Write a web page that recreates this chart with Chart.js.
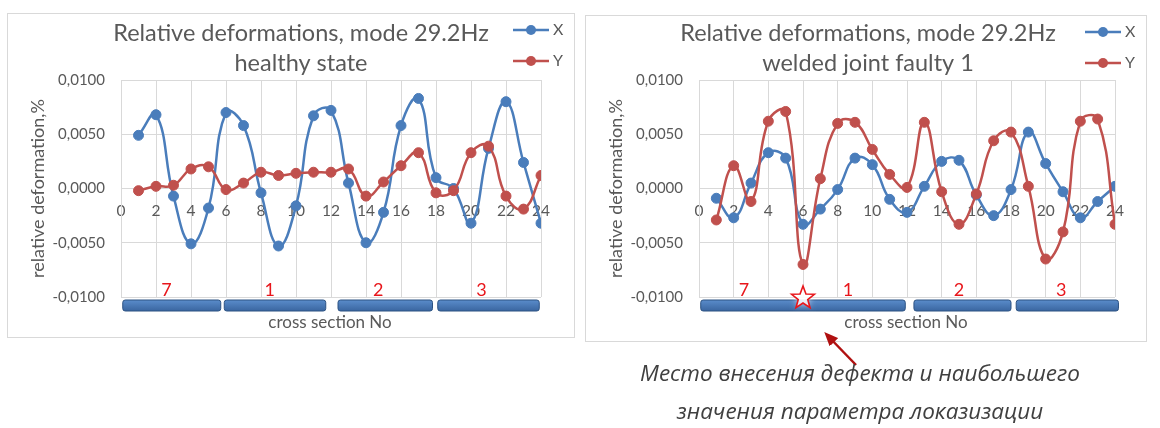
<!DOCTYPE html>
<html>
<head>
<meta charset="utf-8">
<script src="https://cdn.jsdelivr.net/npm/chart.js@4.4.1/dist/chart.umd.min.js"></script>
<style>
  body { margin: 0; width: 1160px; height: 428px; background: #fff; position: relative; overflow: hidden; }
  .panel { position: absolute; border: 1px solid #d9d9d9; background: #fff; }
  #p1 { left: 7px; top: 13px; width: 566px; height: 323px; }
  #p2 { left: 585px; top: 15px; width: 560px; height: 325px; }
  .panel canvas { display: block; }
  .note { position: absolute; left: 560px; width: 600px; text-align: center; font: italic 22.5px "Open Sans", sans-serif; color: #404040; }
  #arrow { position: absolute; left: 0; top: 0; }
</style>
</head>
<body>
<div class="panel" id="p1"><canvas id="healthyChart" width="566" height="323"></canvas></div>
<div class="panel" id="p2"><canvas id="faultyChart" width="560" height="325"></canvas></div>
<svg id="arrow" width="1160" height="428">
  <defs>
    <marker id="head" markerWidth="14" markerHeight="12" refX="10" refY="6" orient="auto" markerUnits="userSpaceOnUse">
      <path d="M0,0 L14,6 L0,12 z" fill="#b01010"/>
    </marker>
  </defs>
  <line x1="856" y1="365" x2="827" y2="335" stroke="#b01010" stroke-width="2.5" marker-end="url(#head)"/>
</svg>
<div class="note" style="top:357px">Место внесения дефекта и наибольшего</div>
<div class="note" style="top:395px">значения параметра локазизации</div>
<script>
// cross sections along the beam
const crossSections = [1, 2, 3, 4, 5, 6, 7, 8, 9, 10, 11, 12, 13, 14, 15, 16, 17, 18, 19, 20, 21, 22, 23, 24];

// healthy state
const healthyX = [0.0049, 0.0068, -0.0007, -0.0051, -0.0018, 0.0070, 0.0058, -0.0004, -0.0053, -0.0016, 0.0067, 0.0072,
                  0.0005, -0.0050, -0.0022, 0.0058, 0.0083, 0.0010, 0.0000, -0.0032, 0.0037, 0.0080, 0.0024, -0.0032];
const healthyY = [-0.0002, 0.0002, 0.0003, 0.0018, 0.0020, -0.0001, 0.0005, 0.0015, 0.0012, 0.0014, 0.0015, 0.0015,
                  0.0018, -0.0007, 0.0006, 0.0021, 0.0033, -0.0004, -0.0002, 0.0033, 0.0039, -0.0007, -0.0019, 0.0012];

// welded joint faulty 1
const faultyX = [-0.0009, -0.0027, 0.0005, 0.0033, 0.0028, -0.0033, -0.0019, -0.0001, 0.0028, 0.0022, -0.0010, -0.0022,
                 0.0002, 0.0025, 0.0026, -0.0006, -0.0025, -0.0001, 0.0052, 0.0023, -0.0003, -0.0027, -0.0012, 0.0002];
const faultyY = [-0.0029, 0.0021, -0.0012, 0.0062, 0.0071, -0.0070, 0.0009, 0.0060, 0.0061, 0.0036, 0.0013, 0.0001,
                 0.0061, -0.0003, -0.0033, -0.0005, 0.0044, 0.0052, 0.0002, -0.0065, -0.0040, 0.0062, 0.0064, -0.0033];

// beam segments under the axis
const segmentNames = ['7', '1', '2', '3'];
const healthySegStart = [0.1, 5.9, 12.4, 18.1];
const healthySegEnd = [5.7, 11.7, 17.8, 23.9];
const faultySegStart = [0.1, 12.4, 18.3];
const faultySegEnd = [11.9, 18.0, 24.2];
const defectSection = 6;

const BLUE = '#4a7dbb';
const RED = '#c0504d';
const GREY = '#595959';
const GRID = '#d9d9d9';

function toPoints(xs, ys) {
    return xs.map((x, i) => ({ x: x, y: ys[i] }));
}

function roundRect(ctx, x, y, w, h, r) {
    ctx.beginPath();
    ctx.moveTo(x + r, y);
    ctx.lineTo(x + w - r, y);
    ctx.quadraticCurveTo(x + w, y, x + w, y + r);
    ctx.lineTo(x + w, y + h - r);
    ctx.quadraticCurveTo(x + w, y + h, x + w - r, y + h);
    ctx.lineTo(x + r, y + h);
    ctx.quadraticCurveTo(x, y + h, x, y + h - r);
    ctx.lineTo(x, y + r);
    ctx.quadraticCurveTo(x, y, x + r, y);
    ctx.closePath();
}

function drawStar(ctx, cx, cy, outer, inner) {
    ctx.beginPath();
    for (let i = 0; i < 10; i++) {
        const r = i % 2 ? inner : outer;
        const a = -Math.PI / 2 + i * Math.PI / 5;
        ctx.lineTo(cx + r * Math.cos(a), cy + r * Math.sin(a));
    }
    ctx.closePath();
}

// titles, legend, segment bars and the x title are drawn on top of the chart
function decor(cfg) {
    return {
        id: 'decor',
        afterDraw(chart) {
            const ctx = chart.ctx;
            const area = chart.chartArea;
            const xs = chart.scales.x;
            ctx.save();

            ctx.fillStyle = GREY;
            ctx.textAlign = 'center';
            ctx.textBaseline = 'middle';
            ctx.font = '23.5px Lato';
            cfg.title.forEach((t, i) => ctx.fillText(t, cfg.titleX, cfg.titleY + i * 30));

            // legend: line with a marker, like the spreadsheet one
            ctx.font = '16px Lato';
            ctx.textAlign = 'left';
            chart.data.datasets.forEach((ds, i) => {
                const y = cfg.legendY + i * 31;
                ctx.strokeStyle = ds.borderColor;
                ctx.lineWidth = 2.5;
                ctx.beginPath();
                ctx.moveTo(cfg.legendX, y);
                ctx.lineTo(cfg.legendX + 36, y);
                ctx.stroke();
                ctx.fillStyle = ds.borderColor;
                ctx.beginPath();
                ctx.arc(cfg.legendX + 18, y, 5, 0, Math.PI * 2);
                ctx.fill();
                ctx.fillStyle = GREY;
                ctx.fillText(ds.label, cfg.legendX + 40, y);
            });

            // segment bars
            const top = area.bottom + 3;
            cfg.segStart.forEach((s, i) => {
                const x0 = xs.getPixelForValue(s);
                const x1 = xs.getPixelForValue(cfg.segEnd[i]);
                const g = ctx.createLinearGradient(0, top, 0, top + 11);
                g.addColorStop(0, '#5a8ccb');
                g.addColorStop(1, '#3a66a0');
                roundRect(ctx, x0, top, x1 - x0, 11, 2.5);
                ctx.fillStyle = g;
                ctx.fill();
                ctx.strokeStyle = '#2c5282';
                ctx.lineWidth = 1;
                ctx.stroke();
            });

            ctx.fillStyle = '#e8161b';
            ctx.font = '18px Lato';
            ctx.textAlign = 'center';
            segmentNames.forEach((n, i) => {
                ctx.fillText(n, xs.getPixelForValue(cfg.nameAt[i]), area.bottom - 7);
            });

            if (cfg.star !== undefined) {
                const sx = xs.getPixelForValue(cfg.star);
                ctx.shadowColor = 'rgba(255,255,255,0.9)';
                ctx.shadowBlur = 6;
                drawStar(ctx, sx, area.bottom + 1, 12, 5);
                ctx.fillStyle = 'rgba(255,255,255,0.75)';
                ctx.fill();
                ctx.shadowBlur = 0;
                ctx.strokeStyle = '#e8161b';
                ctx.lineWidth = 1.6;
                ctx.stroke();
            }

            ctx.fillStyle = GREY;
            ctx.font = '17px Lato';
            ctx.fillText('cross section No', cfg.xTitleX, area.bottom + 26);
            ctx.restore();
        }
    };
}

function makeChart(id, xVals, yVals, cfg) {
    const canvas = document.getElementById(id);
    return new Chart(canvas.getContext('2d'), {
        type: 'line',
        data: {
            datasets: [
                { label: 'X', data: toPoints(crossSections, xVals), borderColor: BLUE, backgroundColor: BLUE, order: 1 },
                { label: 'Y', data: toPoints(crossSections, yVals), borderColor: RED, backgroundColor: RED, order: 0 }
            ]
        },
        options: {
            responsive: false,
            animation: false,
            devicePixelRatio: 1,
            layout: { padding: cfg.padding },
            elements: {
                line: { tension: 0.45, borderWidth: 2.5 },
                point: { radius: 5, borderWidth: 1 }
            },
            plugins: { legend: { display: false }, title: { display: false }, tooltip: { enabled: false } },
            scales: {
                x: {
                    type: 'linear',
                    position: { y: 0 },
                    min: 0,
                    max: 24,
                    ticks: { stepSize: 2, color: GREY, font: { family: 'Lato', size: 15.5 }, padding: 13 },
                    grid: { color: GRID, drawTicks: false },
                    border: { color: GRID }
                },
                y: {
                    min: -0.01,
                    max: 0.01,
                    ticks: {
                        stepSize: 0.005,
                        color: GREY,
                        font: { family: 'Lato', size: 15 },
                        padding: 16,
                        callback: v => (Math.abs(v) < 1e-9 ? 0 : v).toFixed(4).replace('.', ',')
                    },
                    grid: { color: GRID, drawTicks: false },
                    border: { color: GRID },
                    title: { display: true, text: 'relative deformation,%', color: GREY, font: { family: 'Lato', size: 18 }, padding: { top: 2 } },
                    afterFit(scale) { scale.width = 96; }
                }
            }
        },
        plugins: [decor(cfg)]
    });
}

makeChart('healthyChart', healthyX, healthyY, {
    padding: { left: 17, right: 33, top: 66, bottom: 40 },
    title: ['Relative deformations, mode 29.2Hz', 'healthy state'],
    titleX: 293, titleY: 19,
    legendX: 505, legendY: 16,
    segStart: healthySegStart, segEnd: healthySegEnd,
    nameAt: [2.6, 8.5, 14.7, 20.6],
    xTitleX: 322
});

makeChart('faultyChart', faultyX, faultyY, {
    padding: { left: 17, right: 31, top: 64, bottom: 44 },
    title: ['Relative deformations, mode 29.2Hz', 'welded joint faulty 1'],
    titleX: 282, titleY: 17,
    legendX: 499, legendY: 16,
    segStart: faultySegStart, segEnd: faultySegEnd,
    nameAt: [2.6, 8.6, 15.0, 20.9],
    star: defectSection,
    xTitleX: 320
});
</script>
</body>
</html>
